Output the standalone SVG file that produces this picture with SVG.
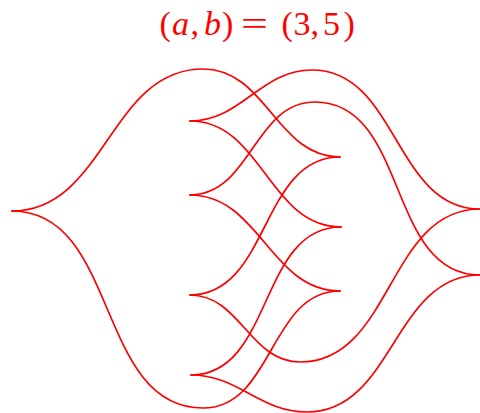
<svg xmlns="http://www.w3.org/2000/svg" width="480" height="413" viewBox="0 0 480 413">
<style>
.c{fill:none;stroke:#ff0000;stroke-width:1.7;stroke-linecap:round;stroke-linejoin:round}
.t{font-family:"Liberation Serif","DejaVu Serif",serif;font-size:34px;fill:#ff0000}
.i{font-style:italic}
</style>
<rect width="480" height="413" fill="#ffffff"/>
<g id="title">
<text class="t" y="34.5"><tspan x="159.5">(</tspan><tspan class="i" x="172">a</tspan><tspan x="190.5">,</tspan><tspan class="i" x="204">b</tspan><tspan x="222">)</tspan></text>
<text class="t" x="241" y="34.5" textLength="27" lengthAdjust="spacingAndGlyphs">=</text>
<text class="t" y="34.5"><tspan x="281.5">(</tspan><tspan x="293.5">3</tspan><tspan x="310.5">,</tspan><tspan x="323">5</tspan><tspan x="343.5">)</tspan></text>
</g>
<g id="connectors">
<path id="e1" class="c" d="M12,211 C105.2,211 109.8,69 203,69 C266.7,69 276.3,157 340,157"/>
<path id="e2" class="c" d="M12,211 C119.4,211 95.6,408 203,408 C273.5,408 269.5,291 340,291"/>
<path id="e3" class="c" d="M190,121 C241.8,121 260.2,70 312,70 C397.4,70 394.6,209 480,209"/>
<path id="e4" class="c" d="M190,121 C262.2,121 268.8,227 341,227"/>
<path id="e5" class="c" d="M190,195 C251,195 254,102 315,102 C408.6,102 386.4,275 480,275"/>
<path id="e6" class="c" d="M190,195 C259.7,195 270.3,291 340,291"/>
<path id="e7" class="c" d="M190,295 C269.8,295 260.2,157 340,157"/>
<path id="e8" class="c" d="M190,295 C240.4,295 249.6,362 300,362 C392.5,362 387.5,209 480,209"/>
<path id="e9" class="c" d="M191,375 C273.5,375 258.5,227 341,227"/>
<path id="e10" class="c" d="M191,375 C238.7,375 259.3,412 307,412 C393.4,412 393.6,275 480,275"/>
</g>
</svg>
